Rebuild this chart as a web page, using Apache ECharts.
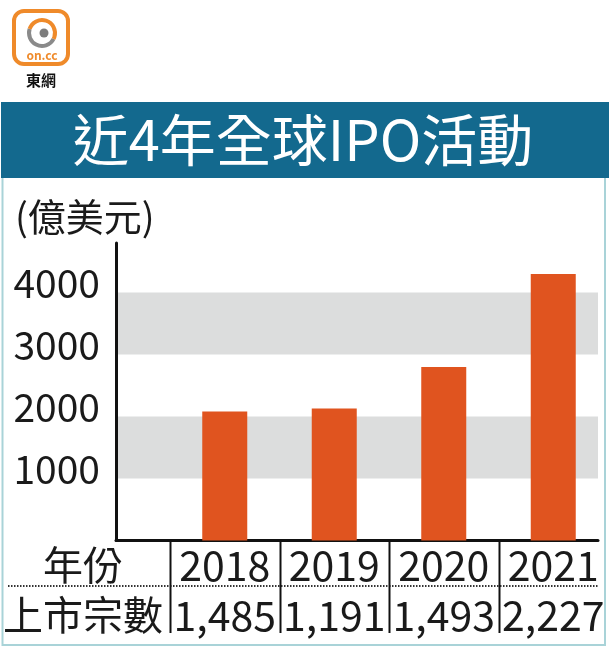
<!DOCTYPE html>
<html>
<head>
<meta charset="utf-8">
<script src="https://cdn.jsdelivr.net/npm/echarts@6/dist/echarts.min.js"></script>
<style>
html,body{margin:0;padding:0;background:#fff;}
#chart{width:609px;height:647px;}
</style>
</head>
<body>
<div id="chart"></div>
<script>
// ---- data ----
var years = ['2018', '2019', '2020', '2021'];
var ipoValues = [2080, 2130, 2800, 4300];          // 億美元
var listingCounts = ['1,485', '1,191', '1,493', '2,227'];
var yTickLabels = ['1000', '2000', '3000', '4000'];
var titleText = '近4年全球IPO活動';
var unitText = '(億美元)';
var rowHeaders = ['年份', '上市宗數'];

var FONT = '"Noto Sans CJK TC", "Noto Sans", sans-serif';
var chart = echarts.init(document.getElementById('chart'), null, {renderer: 'canvas'});

var option = {
  backgroundColor: '#ffffff',
  animation: false,
  grid: [
    {left: 116, right: 11, top: 243, bottom: 106.5},
    {left: 170, right: 1, top: 243, bottom: 106.5}
  ],
  xAxis: [
    {
      gridIndex: 0, type: 'value', min: 0, max: 1,
      axisLine: {show: true, onZero: false, lineStyle: {color: '#111', width: 3}},
      axisTick: {show: false}, axisLabel: {show: false}, splitLine: {show: false}
    },
    {
      gridIndex: 1, type: 'category', data: years,
      axisLine: {show: false}, axisTick: {show: false},
      axisLabel: {
        margin: 0,
        formatter: function (v, i) { return '{y|' + v + '}\n{c|' + listingCounts[i] + '}'; },
        rich: {
          y: {fontFamily: FONT, fontSize: 41, lineHeight: 50, color: '#1a1a1a'},
          c: {fontFamily: FONT, fontSize: 41, lineHeight: 50, color: '#1a1a1a'}
        }
      }
    }
  ],
  yAxis: [
    {
      gridIndex: 0, type: 'value', min: 0, max: 4800, interval: 1000,
      axisLine: {show: true, lineStyle: {color: '#111', width: 3}},
      axisTick: {show: false},
      splitLine: {show: false},
      splitArea: {show: true, areaStyle: {color: ['rgba(0,0,0,0)', '#dcdddd']}},
      axisLabel: {
        margin: 16,
        formatter: function (v) {
          var s = String(v);
          return yTickLabels.indexOf(s) >= 0 ? '{t|' + s + '}' : '';
        },
        rich: {
          t: {fontFamily: FONT, fontSize: 39, color: '#1a1a1a', lineHeight: 40, padding: [0, 0, 18, 0]}
        }
      }
    },
    {
      gridIndex: 1, type: 'value', min: 0, max: 4800, show: false
    }
  ],
  series: [
    {
      type: 'bar', xAxisIndex: 1, yAxisIndex: 1,
      data: ipoValues, barWidth: 45,
      itemStyle: {color: '#e0541f'}
    }
  ],
  graphic: [
    // panel border
    {type: 'polyline', shape: {points: [[2.5, 178], [2.5, 645], [605, 645], [605, 178]]},
     style: {stroke: '#a9d3d8', lineWidth: 2, fill: null}, z: 1},
    // title bar
    {type: 'rect', shape: {x: 1, y: 102, width: 608, height: 76},
     style: {fill: '#13698e'}, z: 2},
    {type: 'text', x: 303, y: 140,
     style: {text: titleText, fill: '#ffffff', font: '56px ' + FONT, align: 'center', verticalAlign: 'middle'}, z: 3},
    // unit
    {type: 'text', x: 15, y: 217,
     style: {text: unitText, fill: '#1a1a1a', font: '38px ' + FONT, align: 'left', verticalAlign: 'middle'}, z: 3},
    // row headers
    {type: 'text', x: 83, y: 565,
     style: {text: rowHeaders[0], fill: '#1a1a1a', font: '40px ' + FONT, align: 'center', verticalAlign: 'middle'}, z: 3},
    {type: 'text', x: 83, y: 615,
     style: {text: rowHeaders[1], fill: '#1a1a1a', font: '40px ' + FONT, align: 'center', verticalAlign: 'middle'}, z: 3},
    // dotted row divider
    {type: 'line', shape: {x1: 8, y1: 586, x2: 598, y2: 586},
     style: {stroke: '#333', lineWidth: 2, lineDash: [1.5, 1.5]}, z: 3},
    // logo
    {type: 'rect', shape: {x: 14, y: 11, width: 54, height: 53, r: 10},
     style: {fill: '#fff', stroke: '#ef8a2a', lineWidth: 4}, z: 3},
    {type: 'arc', shape: {cx: 42, cy: 33, r: 13, startAngle: Math.PI * 0.15, endAngle: Math.PI * 1.1},
     style: {stroke: '#8a8a8a', lineWidth: 4, fill: null}, z: 4},
    {type: 'arc', shape: {cx: 42, cy: 33, r: 13, startAngle: Math.PI * 1.1, endAngle: Math.PI * 2.15},
     style: {stroke: '#ef8a2a', lineWidth: 4, fill: null}, z: 4},
    {type: 'circle', shape: {cx: 44, cy: 33, r: 4.5}, style: {fill: '#7d7d7d'}, z: 4},
    {type: 'text', x: 42, y: 55,
     style: {text: 'on.cc', fill: '#ef8a2a', font: 'bold 12px ' + FONT, align: 'center', verticalAlign: 'middle'}, z: 4},
    {type: 'text', x: 41, y: 80,
     style: {text: '東網', fill: '#111', font: 'bold 15px ' + FONT, align: 'center', verticalAlign: 'middle'}, z: 4}
  ]
};
chart.setOption(option);

// column separators between table cells, positioned from the category scale
var centers = years.map(function (y) { return chart.convertToPixel({xAxisIndex: 1}, y); });
var band = centers[1] - centers[0];
var seps = centers.map(function (c) {
  return {type: 'line', shape: {x1: Math.round(c - band / 2) + 0.5, y1: 541, x2: Math.round(c - band / 2) + 0.5, y2: 633},
          style: {stroke: '#111', lineWidth: 2}, z: 3};
});
chart.setOption({graphic: option.graphic.concat(seps)});
</script>
</body>
</html>
